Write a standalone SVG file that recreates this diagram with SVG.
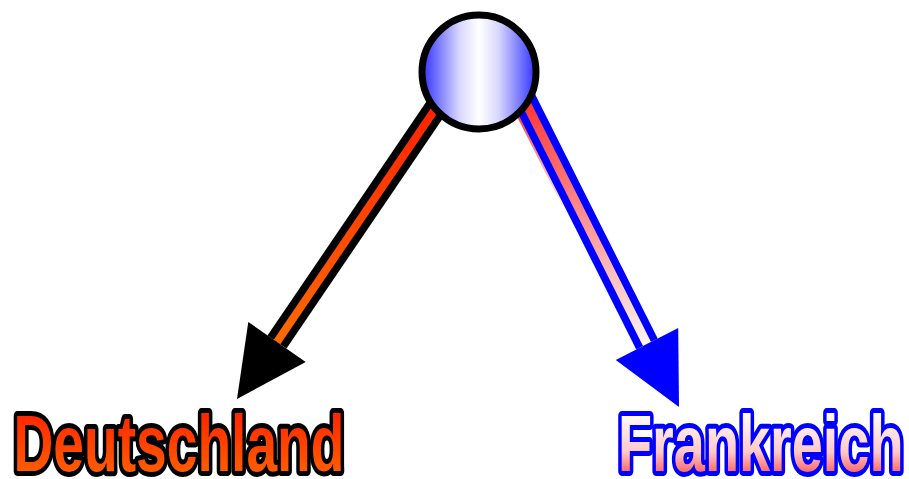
<svg xmlns="http://www.w3.org/2000/svg" width="909" height="479" viewBox="0 0 909 479">
<style>
.lbl{font-family:"Liberation Sans",Arial,sans-serif;font-weight:bold;font-size:79px;stroke-width:10;stroke-linejoin:round;paint-order:stroke}
</style>
<defs>
<linearGradient id="gCircle" x1="0" y1="0" x2="1" y2="0">
<stop offset="0" stop-color="#3030ff"/>
<stop offset="0.33" stop-color="#d8d8ff"/>
<stop offset="0.5" stop-color="#ffffff"/>
<stop offset="0.67" stop-color="#d8d8ff"/>
<stop offset="1" stop-color="#3030ff"/>
</linearGradient>
<linearGradient id="gLeft" gradientUnits="userSpaceOnUse" x1="455" y1="80" x2="277" y2="342">
<stop offset="0" stop-color="#ff1a00"/>
<stop offset="1" stop-color="#ff6a00"/>
</linearGradient>
<linearGradient id="gRight" gradientUnits="userSpaceOnUse" x1="518" y1="87" x2="647" y2="344">
<stop offset="0" stop-color="#ff2a2a"/>
<stop offset="1" stop-color="#fff4f4"/>
</linearGradient>
<linearGradient id="gThin" gradientUnits="userSpaceOnUse" x1="510" y1="100" x2="566" y2="210">
<stop offset="0" stop-color="#ff2020" stop-opacity="1"/>
<stop offset="1" stop-color="#ff2020" stop-opacity="0"/>
</linearGradient>
<linearGradient id="gDe" x1="0" y1="0" x2="0" y2="1">
<stop offset="0" stop-color="#ff1800"/>
<stop offset="1" stop-color="#ff6a00"/>
</linearGradient>
<linearGradient id="gFr" x1="0" y1="0" x2="0" y2="1">
<stop offset="0.15" stop-color="#ffffff"/>
<stop offset="0.6" stop-color="#ffc8c8"/>
<stop offset="1" stop-color="#ff2020"/>
</linearGradient>
</defs>
<g id="edges">
<g id="edge-de">
<line x1="455" y1="80" x2="277" y2="342" stroke="#000" stroke-width="23"/>
<line x1="455" y1="80" x2="277" y2="342" stroke="url(#gLeft)" stroke-width="8"/>
<polygon points="237,399 248.3,321.9 305.7,362.1" fill="#000"/>
</g>
<g id="edge-fr">
<line x1="510.4" y1="100" x2="565.9" y2="210" stroke="url(#gThin)" stroke-width="3"/>
<line x1="518" y1="87" x2="647" y2="344" stroke="#0000ff" stroke-width="24"/>
<line x1="518" y1="87" x2="647" y2="344" stroke="url(#gRight)" stroke-width="9"/>
<polygon points="679,407 678.2,328.1 615.8,359.9" fill="#0000ff"/>
</g>
</g>
<g id="node-center">
<circle cx="479" cy="72" r="57" fill="url(#gCircle)" stroke="#000" stroke-width="7"/>
</g>
<g id="node-deutschland">
<text class="lbl" x="13.5" y="470.5" textLength="331" lengthAdjust="spacingAndGlyphs" fill="url(#gDe)" stroke="#000">Deutschland</text>
</g>
<g id="node-frankreich">
<text class="lbl" x="618" y="470.5" textLength="285.5" lengthAdjust="spacingAndGlyphs" fill="url(#gFr)" stroke="#0000ff">Frankreich</text>
</g>
</svg>
